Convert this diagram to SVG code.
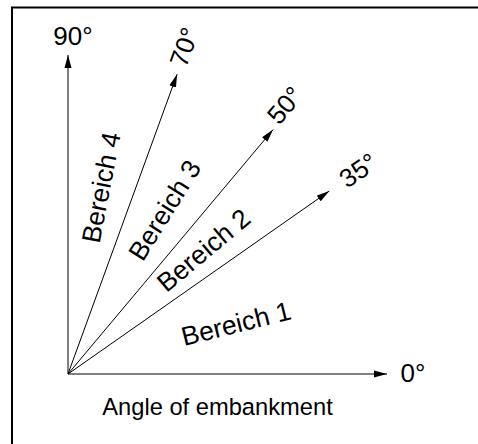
<svg xmlns="http://www.w3.org/2000/svg" width="478" height="444" viewBox="0 0 478 444">
  <defs>
    <marker id="arr" markerUnits="userSpaceOnUse" markerWidth="14" markerHeight="8" viewBox="0 0 14 8" refX="13" refY="4" orient="auto">
      <path d="M0,0.5 L13,4 L0,7.5 Z" fill="#000"/>
    </marker>
  </defs>
  <style>
    .ax { stroke: #000; stroke-width: 1; fill: none; marker-end: url(#arr); }
    .deg { font-family: "Liberation Sans", Arial, sans-serif; font-size: 26px; fill: #000; text-anchor: middle; }
    .lab { font-family: "Liberation Sans", Arial, sans-serif; font-size: 26.5px; fill: #000; text-anchor: middle; }
    .title { font-family: "Liberation Sans", Arial, sans-serif; font-size: 23.7px; fill: #000; text-anchor: middle; }
  </style>
  <rect x="12" y="7.5" width="480" height="450" fill="#fff" stroke="#000" stroke-width="2"/>
  <g id="connectors">
    <line class="ax" x1="68" y1="374" x2="387" y2="374"/>
    <line class="ax" x1="68" y1="374" x2="68" y2="55"/>
    <line class="ax" x1="68" y1="374" x2="177.1" y2="74.2"/>
    <line class="ax" x1="68" y1="374" x2="273.1" y2="129.6"/>
    <line class="ax" x1="68" y1="374" x2="329.3" y2="191"/>
  </g>
  <g id="label-0"><text class="deg" x="413" y="382">0°</text></g>
  <g id="label-90"><text class="deg" x="73" y="45">90°</text></g>
  <g id="label-70"><text class="deg" transform="translate(192.8,50.1) rotate(-70)">70°</text></g>
  <g id="label-50"><text class="deg" transform="translate(291.9,111) rotate(-50)">50°</text></g>
  <g id="label-35"><text class="deg" transform="translate(363.4,177.7) rotate(-35)">35°</text></g>
  <g id="bereich-4"><text class="lab" transform="translate(110.1,189.3) rotate(-79)">Bereich 4</text></g>
  <g id="bereich-3"><text class="lab" transform="translate(172.3,215) rotate(-58)">Bereich 3</text></g>
  <g id="bereich-2"><text class="lab" transform="translate(209.4,257.3) rotate(-40)">Bereich 2</text></g>
  <g id="bereich-1"><text class="lab" transform="translate(238.3,332.5) rotate(-14)">Bereich 1</text></g>
  <g id="axis-title"><text class="title" x="217.5" y="415">Angle of embankment</text></g>
</svg>
